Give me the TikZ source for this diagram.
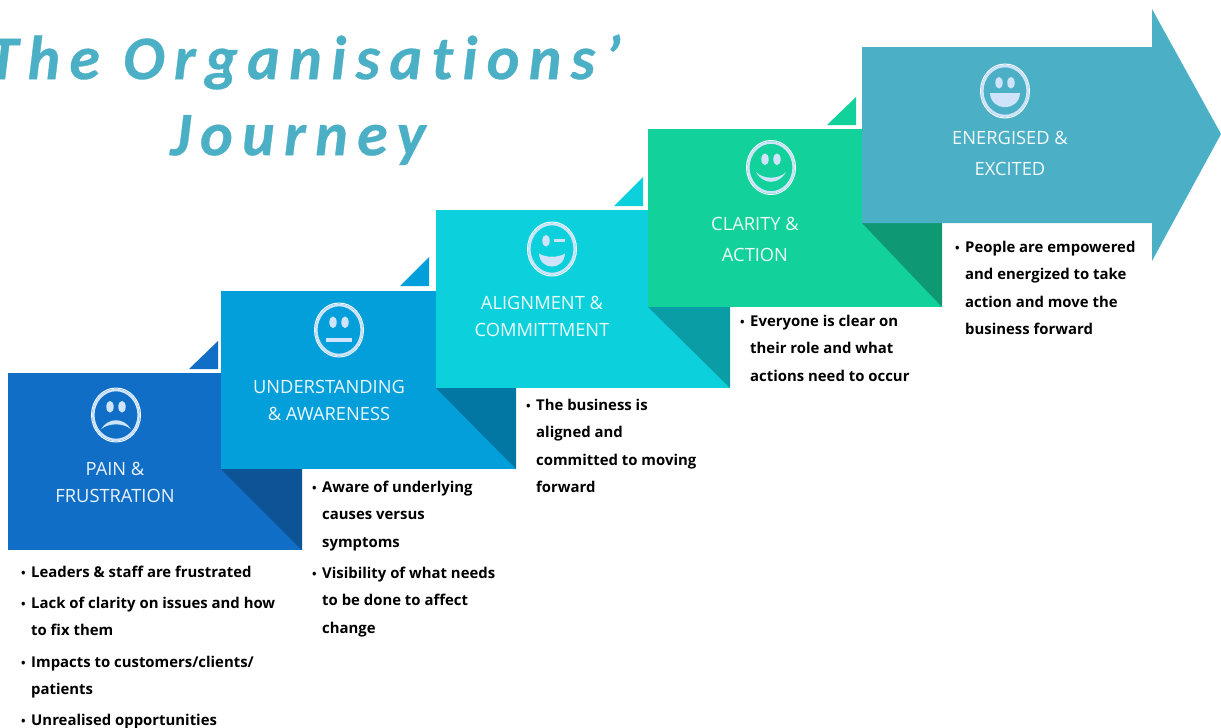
\documentclass[tikz,border=0pt]{standalone}
\usepackage{fontspec}
\usetikzlibrary{shapes.geometric}
\setmainfont{Open Sans}
\newfontfamily\titlefont[LetterSpace=15,RawFeature={-liga;-clig},BoldItalicFont={Carlito Bold Italic},BoldItalicFeatures={FakeBold=0.5}]{Carlito}
\definecolor{painblue}{HTML}{106EC6}
\definecolor{painfold}{HTML}{0D5496}
\definecolor{awareblue}{HTML}{039FDA}
\definecolor{awarefold}{HTML}{0277A4}
\definecolor{aligncyan}{HTML}{0CD1DC}
\definecolor{alignfold}{HTML}{0A9DA5}
\definecolor{claritygreen}{HTML}{12D19A}
\definecolor{clarityfold}{HTML}{0F9972}
\definecolor{energyteal}{HTML}{4BAFC5}
\definecolor{facepale}{HTML}{CFE4FA}
\newcommand{\itemdot}{\llap{\fontsize{12}{12}\selectfont\raisebox{.5pt}{•}\hspace{5.5pt}}}
\tikzset{
  titletext/.style={text=energyteal,font=\titlefont\bfseries\itshape\fontsize{62}{76}\selectfont},
  steptext/.style={text=white,opacity=.92,font=\fontsize{18.3}{27}\selectfont,align=center},
  itemtext/.style={anchor=north west,inner sep=0pt,align=left,font=\bfseries\fontsize{14.9}{27.3}\selectfont},
  facering/.style={ellipse,draw=white,line width=1pt,minimum width=49pt,minimum height=54pt,inner sep=0pt},
  faceinner/.style={draw=facepale,line width=2.5pt},
  facepart/.style={fill=facepale}
}
\begin{document}
\begin{tikzpicture}[x=1pt,y=-1pt]
\useasboundingbox (0,0) rectangle (1221,728);

\node[titletext] (titleA) at (304,62) {The Organisations’};
\node[titletext] (titleB) at (298,140) {Journey};

% pain step
\fill[painblue] (8,373) rectangle (302,550);
\fill[painfold] (221,469) -- (302,469) -- (302,550) -- cycle;
\fill[painblue] (218,341) -- (218,369) -- (189,369) -- cycle;
% understanding step
\fill[awareblue] (221,291) rectangle (516,469);
\fill[awarefold] (436,388) -- (516,388) -- (516,469) -- cycle;
\fill[awareblue] (429,257) -- (429,286) -- (400,286) -- cycle;
% alignment step
\fill[aligncyan] (436,210) rectangle (730,388);
\fill[alignfold] (648,307) -- (730,307) -- (730,388) -- cycle;
\fill[aligncyan] (643,177) -- (643,206) -- (614,206) -- cycle;
% clarity step
\fill[claritygreen] (648,129) rectangle (942,307);
\fill[clarityfold] (862,223) -- (942,223) -- (942,307) -- cycle;
\fill[claritygreen] (856,97) -- (856,125) -- (827,125) -- cycle;
% energised arrow
\fill[energyteal] (862,47) -- (1152,47) -- (1152,9) -- (1221,134) -- (1152,261) -- (1152,223) -- (862,223) -- cycle;

% sad face
\node[facering] (facePain) at (116,415) {};
\begin{scope}[shift={(116,415)},yscale=1.1]
\draw[faceinner] (0,-22.7) .. controls (12.5,-22.7) and (22.7,-12.5) .. (22.7,0) .. controls (22.7,12.5) and (12.5,22.7) .. (0,22.7) .. controls (-12.5,22.7) and (-22.7,12.5) .. (-22.7,0) .. controls (-22.7,-12.5) and (-12.5,-22.7) .. (0,-22.7) -- cycle;
\fill[facepart] (-6,-7.5) ellipse (3.7pt and 5.3pt);
\fill[facepart] (6,-7.5) ellipse (3.7pt and 5.3pt);
\fill[facepart] (-15,13) .. controls (-8,2) and (8,2) .. (15,13) .. controls (8,7) and (-8,7) .. (-15,13) -- cycle;
\end{scope}
% neutral face
\node[facering] (faceAware) at (339,330) {};
\begin{scope}[shift={(339,330)},yscale=1.1]
\draw[faceinner] (0,-22.7) .. controls (12.5,-22.7) and (22.7,-12.5) .. (22.7,0) .. controls (22.7,12.5) and (12.5,22.7) .. (0,22.7) .. controls (-12.5,22.7) and (-22.7,12.5) .. (-22.7,0) .. controls (-22.7,-12.5) and (-12.5,-22.7) .. (0,-22.7) -- cycle;
\fill[facepart] (-6,-7) ellipse (3.7pt and 5.3pt);
\fill[facepart] (6,-7) ellipse (3.7pt and 5.3pt);
\fill[facepart] (-13,7) rectangle (13,11.3);
\end{scope}
% winking face
\node[facering] (faceAlign) at (552,249) {};
\begin{scope}[shift={(552,249)},yscale=1.1]
\draw[faceinner] (0,-22.7) .. controls (12.5,-22.7) and (22.7,-12.5) .. (22.7,0) .. controls (22.7,12.5) and (12.5,22.7) .. (0,22.7) .. controls (-12.5,22.7) and (-22.7,12.5) .. (-22.7,0) .. controls (-22.7,-12.5) and (-12.5,-22.7) .. (0,-22.7) -- cycle;
\fill[facepart] (-6,-7.5) ellipse (3.7pt and 5.3pt);
\fill[facepart] (2,-9) rectangle (13,-6);
\fill[facepart] (-13,4) .. controls (-8,8) and (8,8) .. (13,4) .. controls (12,20) and (-12,20) .. (-13,4) -- cycle;
\end{scope}
% smiling face
\node[facering] (faceClarity) at (771,167.5) {};
\begin{scope}[shift={(771,167.5)},yscale=1.1]
\draw[faceinner] (0,-22.7) .. controls (12.5,-22.7) and (22.7,-12.5) .. (22.7,0) .. controls (22.7,12.5) and (12.5,22.7) .. (0,22.7) .. controls (-12.5,22.7) and (-22.7,12.5) .. (-22.7,0) .. controls (-22.7,-12.5) and (-12.5,-22.7) .. (0,-22.7) -- cycle;
\fill[facepart] (-6,-7.5) ellipse (3.7pt and 5.3pt);
\fill[facepart] (6,-7.5) ellipse (3.7pt and 5.3pt);
\fill[facepart] (-15,4) .. controls (-8,11) and (8,11) .. (15,4) .. controls (8,16) and (-8,16) .. (-15,4) -- cycle;
\end{scope}
% laughing face
\node[facering] (faceEnergy) at (1005,91) {};
\begin{scope}[shift={(1005,91)},yscale=1.1]
\draw[faceinner] (0,-22.7) .. controls (12.5,-22.7) and (22.7,-12.5) .. (22.7,0) .. controls (22.7,12.5) and (12.5,22.7) .. (0,22.7) .. controls (-12.5,22.7) and (-22.7,12.5) .. (-22.7,0) .. controls (-22.7,-12.5) and (-12.5,-22.7) .. (0,-22.7) -- cycle;
\fill[facepart] (-6,-7.5) ellipse (3.7pt and 5.3pt);
\fill[facepart] (6,-7.5) ellipse (3.7pt and 5.3pt);
\fill[facepart] (-15,2) -- (15,2) .. controls (14,19) and (-14,19) .. (-15,2) -- cycle;
\end{scope}

\node[steptext] (labelPain) at (115,482) {PAIN \&\\FRUSTRATION};
\node[steptext] (labelAware) at (329,400) {UNDERSTANDING\\\& AWARENESS};
\node[steptext] (labelAlign) at (542,316) {ALIGNMENT \&\\COMMITTMENT};
\node[steptext] (labelClarity) at (755,239) {CLARITY \&\\[4pt]ACTION};
\node[steptext] (labelEnergy) at (1010,153.5) {ENERGISED \&\\[4pt]EXCITED};

\node[itemtext] (painA) at (31,566) {\itemdot Leaders \& staff are frustrated};
\node[itemtext] (painB) at (31,597) {\itemdot Lack of clarity on issues and how\\to fix them};
\node[itemtext] (painC) at (31,656) {\itemdot Impacts to customers/clients/\\patients};
\node[itemtext] (painD) at (31,714) {\itemdot Unrealised opportunities};
\node[itemtext] (awareA) at (322,481) {\itemdot Aware of underlying\\causes versus\\symptoms};
\node[itemtext] (awareB) at (322,567) {\itemdot Visibility of what needs\\to be done to affect\\change};
\node[itemtext] (alignA) at (536,399) {\itemdot The business is\\aligned and\\committed to moving\\forward};
\node[itemtext] (clarityA) at (750,315) {\itemdot Everyone is clear on\\their role and what\\actions need to occur};
\node[itemtext] (energyA) at (965,241) {\itemdot People are empowered\\and energized to take\\action and move the\\business forward};
\end{tikzpicture}
\end{document}
